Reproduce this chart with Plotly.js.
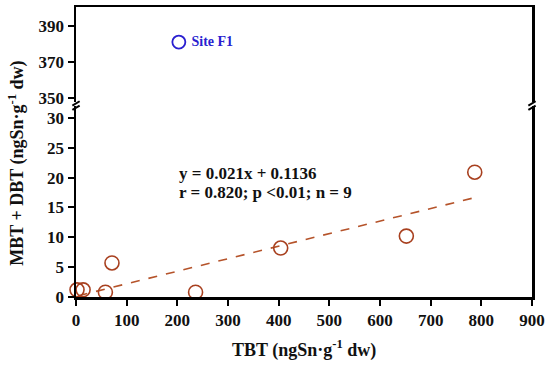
<!DOCTYPE html>
<html>
<head>
<meta charset="utf-8">
<script src="https://cdn.plot.ly/plotly-3.0.1.min.js"></script>
<style>html,body{margin:0;padding:0;background:#fff;}#chart{width:550px;height:366px;}</style>
</head>
<body>
<div id="chart"></div>
<script>
// Data
const tbt = [2, 14, 58, 71, 236, 404, 652, 787];
const mbtDbt = [1.2, 1.2, 0.8, 5.7, 0.8, 8.2, 10.2, 20.9];
const outlierName = [" Site F1"];
const outlierTbt = [203];
const outlierMbtDbt = [381];
const fitX = [5, 787];
const fitSlope = 0.021;
const fitIntercept = 0.1136;
const fitY = fitX.map(x => fitSlope * x + fitIntercept);
const xTicks = [0, 100, 200, 300, 400, 500, 600, 700, 800, 900];
const yLowTicks = [0, 5, 10, 15, 20, 25, 30];
const yHighTicks = [350, 370, 390];
const eqLine1 = "y = 0.021x + 0.1136";
const eqLine2 = "r = 0.820; p <0.01; n = 9";

const FONT = "Liberation Serif, Times New Roman, serif";
const brown = "#a8401f";
const blue = "#2a1fd0";

const traces = [
  {x: fitX, y: fitY, mode: "lines", xaxis: "x", yaxis: "y",
   line: {color: "#b5532a", width: 1.6, dash: "dash"}, hoverinfo: "skip"},
  {x: tbt, y: mbtDbt, mode: "markers", xaxis: "x", yaxis: "y", cliponaxis: false,
   marker: {symbol: "circle-open", size: 14, color: brown, line: {width: 1.6, color: brown}}},
  {x: outlierTbt, y: outlierMbtDbt, text: outlierName, mode: "markers+text", textposition: "middle right",
   xaxis: "x2", yaxis: "y2", cliponaxis: false,
   textfont: {family: FONT, size: 14, color: blue, weight: "bold"},
   marker: {symbol: "circle-open", size: 13, color: blue, line: {width: 1.8, color: blue}}}
];

const axisFont = {family: FONT, size: 17, color: "#111", weight: "bold"};

const layout = {
  width: 550, height: 366,
  margin: {l: 76, r: 18, t: 7, b: 69},
  paper_bgcolor: "#fff", plot_bgcolor: "#fff",
  showlegend: false,
  font: {family: FONT, color: "#111"},
  xaxis: {range: [0, 900], tickvals: xTicks, ticktext: xTicks.map(String),
          showgrid: false, zeroline: false, showline: true, linewidth: 2.5, linecolor: "#000",
          ticks: "outside", ticklen: 6, tickwidth: 2, tickcolor: "#000",
          tickfont: axisFont, anchor: "y", fixedrange: true},
  xaxis2: {range: [0, 900], matches: "x", anchor: "y2", side: "top",
           showgrid: false, zeroline: false, showline: true, linewidth: 2.5, linecolor: "#000",
           ticks: "", showticklabels: false},
  yaxis: {domain: [0, 0.659], range: [0, 32], tickvals: yLowTicks, ticktext: yLowTicks.map(String),
          showgrid: false, zeroline: false, showline: true, mirror: true, linewidth: 2.5, linecolor: "#000",
          ticks: "outside", ticklen: 6, tickwidth: 2, tickcolor: "#000",
          tickfont: axisFont, anchor: "x"},
  yaxis2: {domain: [0.671, 1], range: [347.5, 400.5], tickvals: yHighTicks, ticktext: yHighTicks.map(String),
           showgrid: false, zeroline: false, showline: true, mirror: true, linewidth: 2.5, linecolor: "#000",
           ticks: "outside", ticklen: 6, tickwidth: 2, tickcolor: "#000",
           tickfont: axisFont, anchor: "x2"},
  annotations: [
    {text: eqLine1, xref: "x", yref: "paper", x: 199, y: (297 - 173) / 290, xanchor: "left", yanchor: "middle",
     showarrow: false, font: {family: FONT, size: 17, color: "#111", weight: "bold"}},
    {text: eqLine2, xref: "x", yref: "paper", x: 199, y: (297 - 192) / 290, xanchor: "left", yanchor: "middle",
     showarrow: false, font: {family: FONT, size: 17, color: "#111", weight: "bold"}},
    {text: "TBT (ngSn·g<sup>-1</sup> dw)", xref: "paper", yref: "paper", x: 0.5, y: -0.18,
     xanchor: "center", yanchor: "middle", showarrow: false,
     font: {family: FONT, size: 18, color: "#111", weight: "bold"}},
    {text: "MBT + DBT (ngSn·g<sup>-1</sup> dw)", xref: "paper", yref: "paper", x: -0.13, y: (297 - 163) / 290,
     xanchor: "center", yanchor: "middle", textangle: -90, showarrow: false,
     font: {family: FONT, size: 18, color: "#111", weight: "bold"}}
  ],
  shapes: [
    {type: "line", xref: "paper", yref: "paper", x0: -0.008, x1: 0.008, y0: 0.66, y1: 0.675, line: {color: "#000", width: 2}},
    {type: "line", xref: "paper", yref: "paper", x0: -0.008, x1: 0.008, y0: 0.645, y1: 0.66, line: {color: "#000", width: 2}},
    {type: "line", xref: "paper", yref: "paper", x0: 0.992, x1: 1.008, y0: 0.66, y1: 0.675, line: {color: "#000", width: 2}},
    {type: "line", xref: "paper", yref: "paper", x0: 0.992, x1: 1.008, y0: 0.645, y1: 0.66, line: {color: "#000", width: 2}}
  ]
};

Plotly.newPlot("chart", traces, layout, {displayModeBar: false, staticPlot: true});
</script>
</body>
</html>
